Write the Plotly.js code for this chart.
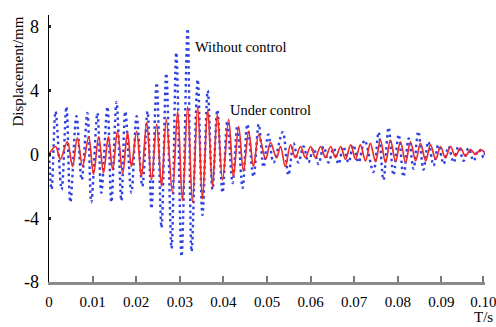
<!DOCTYPE html>
<html>
<head>
<meta charset="utf-8">
<script src="https://cdn.plot.ly/plotly-3.0.1.min.js"></script>
<style>html,body{margin:0;padding:0;background:#fff;}#chart{width:496px;height:327px;}</style>
</head>
<body>
<div id="chart"></div>
<script>
// Time samples (s) and displacement (mm)
var tWithout = [0.0000,0.0006,0.0015,0.0029,0.0040,0.0049,0.0063,0.0075,0.0088,0.0097,
  0.0111,0.0120,0.0134,0.0143,0.0155,0.0166,0.0175,0.0189,0.0201,0.0214,
  0.0226,0.0235,0.0247,0.0258,0.0269,0.0281,0.0292,0.0304,0.0318,0.0327,
  0.0341,0.0352,0.0364,0.0375,0.0386,0.0398,0.0409,0.0421,0.0432,0.0444,
  0.0455,0.0469,0.0481,0.0492,0.0503,0.0515,0.0536,0.0549,0.0561,0.0572,
  0.0584,0.0595,0.0607,0.0618,0.0630,0.0641,0.0653,0.0664,0.0675,0.0687,
  0.0698,0.0710,0.0724,0.0744,0.0756,0.0767,0.0779,0.0790,0.0802,0.0813,
  0.0825,0.0836,0.0847,0.0859,0.0870,0.0882,0.0893,0.0905,0.0916,0.0928,
  0.0939,0.0951,0.0962,0.0974,0.0985,0.0997,0.1000];
var dWithout = [0,-2.2,2.7,-2.2,3.0,-3.0,2.4,-1.6,2.6,-3.0,
  2.6,-2.4,3.0,-3.0,3.3,-2.9,2.7,-2.4,2.4,-2.0,
  2.7,-3.4,4.5,-4.6,5.1,-5.9,6.4,-6.4,7.9,-6.1,
  4.7,-3.8,4.0,-2.2,2.8,-2.4,2.1,-1.8,1.8,-2.1,
  1.9,-1.4,1.9,-0.8,1.25,-0.5,1.4,-1.3,0.7,-0.5,
  0.5,-0.5,0.4,-0.6,0.5,-0.5,0.4,-0.6,0.5,-0.5,
  0.6,-0.5,0.9,-1.1,1.4,-1.6,1.7,-1.3,1.25,-1.4,
  1.0,-0.9,1.45,-0.95,0.8,-0.7,0.6,-0.6,0.5,-0.5,
  0.5,-0.4,0.4,-0.4,0.3,-0.2,0.1];

var tUnder = [0.0000,0.0015,0.0026,0.0042,0.0054,0.0065,0.0077,0.0091,0.0102,0.0114,
  0.0125,0.0136,0.0146,0.0157,0.0169,0.0180,0.0189,0.0201,0.0212,0.0224,
  0.0235,0.0247,0.0258,0.0269,0.0283,0.0295,0.0306,0.0318,0.0329,0.0341,
  0.0352,0.0364,0.0375,0.0386,0.0398,0.0412,0.0423,0.0435,0.0446,0.0458,
  0.0469,0.0481,0.0497,0.0508,0.0522,0.0531,0.0542,0.0554,0.0565,0.0577,
  0.0588,0.0600,0.0611,0.0623,0.0634,0.0646,0.0657,0.0669,0.0680,0.0692,
  0.0703,0.0714,0.0726,0.0737,0.0749,0.0760,0.0772,0.0783,0.0795,0.0806,
  0.0818,0.0829,0.0841,0.0852,0.0864,0.0875,0.0887,0.0898,0.0909,0.0921,
  0.0932,0.0944,0.0955,0.0967,0.0978,0.0990,0.1000];
var dUnder = [0,0.5,-0.3,0.8,-0.75,1.05,-0.75,1.1,-1.25,1.1,
  -1.15,1.1,-0.95,1.45,-1.2,1.4,-0.75,1.45,-1.4,2.0,
  -1.6,1.9,-2.0,2.2,-2.4,2.7,-2.9,3.0,-3.0,3.0,
  -2.8,2.8,-2.0,2.5,-1.6,2.2,-1.4,1.75,-1.05,1.45,
  -0.75,1.25,-0.3,0.75,-0.2,0.5,-0.75,0.6,-0.2,0.5,
  -0.2,0.5,-0.2,0.5,-0.2,0.5,-0.2,0.5,-0.3,0.6,
  -0.3,0.6,-0.4,0.7,-0.45,0.9,-0.5,0.9,-0.45,0.8,
  -0.5,0.8,-0.4,0.7,-0.4,0.6,-0.3,0.5,-0.2,0.5,
  -0.1,0.4,-0.1,0.3,0.0,0.3,0.1];

var xTickVals = [0,0.01,0.02,0.03,0.04,0.05,0.06,0.07,0.08,0.09,0.0996];
var xTickText = ['0','0.01','0.02','0.03','0.04','0.05','0.06','0.07','0.08','0.09','0.10'];
var yTickVals = [-8,-4,0,4,8];
var yTickText = ['-8','-4','0','4','8'];

var serif = '"Liberation Serif", "Times New Roman", serif';

var traces = [
  {x: tWithout, y: dWithout, type: 'scatter', mode: 'lines', name: 'Without control',
   line: {color: '#2f40e0', width: 2.4, dash: '2.5px,3.5px', shape: 'spline', smoothing: 1}},
  {x: tUnder, y: dUnder, type: 'scatter', mode: 'lines', name: 'Under control',
   line: {color: '#ee2a2a', width: 1.7, shape: 'spline', smoothing: 1}}
];

var layout = {
  width: 496, height: 327,
  margin: {l: 49, r: 11, t: 15, b: 45},
  paper_bgcolor: '#ffffff', plot_bgcolor: '#ffffff',
  showlegend: false,
  font: {family: serif, color: '#000000'},
  xaxis: {
    range: [0, 0.1], tickvals: xTickVals, ticktext: xTickText,
    showgrid: false, zeroline: false, showline: true,
    linecolor: '#8a8a8a', linewidth: 3,
    ticks: 'inside', ticklen: 6, tickwidth: 2, tickcolor: '#777777',
    tickfont: {family: serif, size: 15, color: '#000000'},
    ticklabelstandoff: 4, ticklabeloverflow: 'allow'
  },
  yaxis: {
    range: [-8, 8.75], tickvals: yTickVals, ticktext: yTickText,
    showgrid: false, zeroline: false, showline: true,
    linecolor: '#000000', linewidth: 1.5,
    ticks: 'inside', ticklen: 2, tickwidth: 3, tickcolor: '#222222',
    tickfont: {family: serif, size: 18, color: '#000000'},
    ticklabelstandoff: 5
  },
  annotations: [
    {text: 'Displacement/mm', xref: 'paper', yref: 'paper', x: -0.07, y: 0.79,
     xanchor: 'center', yanchor: 'middle', textangle: -90, showarrow: false,
     font: {family: serif, size: 15, color: '#000000'}},
    {text: 'T/s', xref: 'paper', yref: 'paper', x: 0.997, y: -0.13,
     xanchor: 'center', yanchor: 'middle', showarrow: false,
     font: {family: serif, size: 15, color: '#000000'}},
    {text: 'Without control', xref: 'x', yref: 'y', x: 0.0440, y: 6.75,
     xanchor: 'center', yanchor: 'middle', showarrow: false,
     font: {family: serif, size: 14.5, color: '#000000'}},
    {text: 'Under control', xref: 'x', yref: 'y', x: 0.0508, y: 2.8,
     xanchor: 'center', yanchor: 'middle', showarrow: false,
     font: {family: serif, size: 14.5, color: '#000000'}}
  ]
};

Plotly.newPlot('chart', traces, layout, {displayModeBar: false, staticPlot: true});
</script>
</body>
</html>
